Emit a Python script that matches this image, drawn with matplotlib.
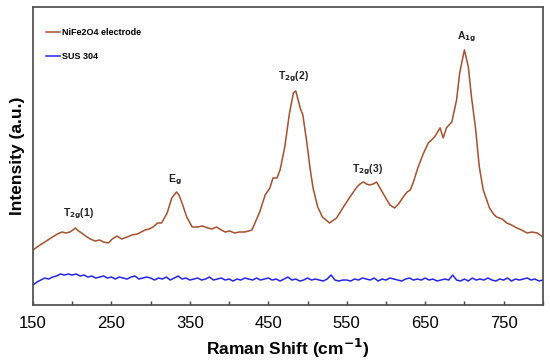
import numpy as np
import matplotlib

matplotlib.use("Agg")
import matplotlib.pyplot as plt
from matplotlib.ticker import FixedLocator

plt.rcParams["font.family"] = ["Liberation Sans", "DejaVu Sans"]

# NiFe2O4 electrode spectrum (wavenumber, intensity a.u.)
nife_shift = [150, 157, 163, 169, 175, 181, 187, 192, 197, 201, 204, 208, 212, 217,
              223, 229, 235, 240, 246, 251, 257, 263, 270, 276, 283, 288, 293, 298,
              303, 306, 309, 314, 321, 327, 333, 336, 340, 346, 353, 360, 366, 373,
              378, 384, 390, 395, 401, 407, 413, 420, 425, 429, 433, 439, 446,
              452, 456, 461, 465, 471, 477, 482, 485, 488, 491, 494, 499, 503, 507,
              513, 519, 528, 537, 545, 554, 563, 567, 571, 575, 579, 584, 588, 596,
              605, 611, 616, 622, 627, 631, 635, 641, 648, 654, 662, 669,
              673, 677, 684, 690, 694, 700, 705, 709, 714, 719, 724, 732, 737,
              741, 748, 754, 760, 767, 773, 780, 786, 793, 800]
nife_int = [55, 59, 62, 65, 68, 71, 73, 72, 73, 75, 77, 74, 72, 69,
            66, 64, 65, 63, 62, 66, 69, 66, 68, 70, 71, 73, 75, 76,
            78, 80, 82, 82, 92, 107, 113, 110, 102, 88, 78, 78, 79, 77,
            76, 78, 75, 73, 74, 72, 73, 73, 74, 75, 82, 93, 110,
            117, 127, 127, 135, 158, 192, 212, 214, 205, 196, 190, 163, 138, 117,
            98, 88, 82, 87, 97, 108, 118, 121, 123, 121, 120, 121, 123, 112,
            100, 97, 101, 108, 113, 115, 123, 138, 152, 162, 168, 177,
            167, 177, 183, 205, 232, 255, 238, 208, 178, 138, 115, 97, 91,
            88, 86, 82, 80, 77, 75, 72, 73, 72, 68]

# SUS 304 spectrum, 150-800 cm-1 in 5 cm-1 steps
sus_int = [20, 23, 25, 27, 26, 28, 29, 31, 30, 31, 30, 31, 29, 30, 28, 29, 27, 28, 29, 27,
           28, 26, 28, 27, 26, 28, 29, 26, 27, 28, 27, 25, 27, 26, 28, 25, 27, 29, 26, 27,
           25, 26, 27, 25, 26, 28, 25, 26, 27, 25, 26, 24, 26, 25, 27, 26, 25, 27, 25, 26,
           27, 25, 26, 24, 26, 28, 25, 26, 24, 25, 27, 25, 26, 25, 24, 26, 30, 25, 24, 25,
           25, 24, 26, 25, 27, 26, 25, 27, 24, 26, 25, 27, 26, 25, 24, 26, 27, 25, 26, 25,
           27, 25, 26, 24, 25, 26, 25, 30, 25, 24, 26, 24, 27, 25, 26, 25, 27, 25, 24, 26,
           25, 27, 24, 26, 25, 26, 27, 25, 26, 24, 25]
sus_shift = np.linspace(150, 800, len(sus_int))

# peak labels: (text, shift, intensity)
peak_labels = [
    (r"T$_{\mathbf{2g}}$(1)", 208, 91),
    (r"E$_{\mathbf{g}}$", 331, 125),
    (r"T$_{\mathbf{2g}}$(2)", 482, 228),
    (r"T$_{\mathbf{2g}}$(3)", 577, 135),
    (r"A$_{\mathbf{1g}}$", 703, 268),
]

fig = plt.figure(figsize=(5.5, 3.61), dpi=100)
ax = fig.add_axes([0.06, 0.155, 0.927, 0.826])

ax.plot(nife_shift, nife_int, color="#a5502f", lw=1.1, label="NiFe2O4 electrode")
ax.plot(sus_shift, sus_int, color="#2424e6", lw=1.1, label="SUS 304")

for text, x, y in peak_labels:
    ax.text(x, y, text, ha="center", va="center", fontsize=7.5, fontweight="bold",
            color="#222222")

ax.set_xlim(150, 800)
ax.set_ylim(0, 298)
ax.xaxis.set_major_locator(FixedLocator([150, 250, 350, 450, 550, 650, 750]))
ax.xaxis.set_minor_locator(FixedLocator([200, 300, 400, 500, 600, 700, 800]))
ax.tick_params(axis="x", which="both", direction="in", length=3, width=1,
               color="#444444", labelsize=12, pad=8)
ax.set_yticks([])
for spine in ax.spines.values():
    spine.set_color("#555555")
    spine.set_linewidth(1.3)

ax.set_xlabel("Raman Shift (cm$^{\\mathbf{-1}}$)", fontsize=12.5, fontweight="bold", labelpad=4)
ax.set_ylabel("Intensity (a.u.)", fontsize=12.5, fontweight="bold", labelpad=6)

leg = ax.legend(loc="upper left", bbox_to_anchor=(0.01, 0.955), frameon=False,
                prop={"size": 6.5, "weight": "bold"}, handlelength=1.5, handletextpad=0.3,
                labelspacing=1.6)

fig.savefig("out.png", dpi=100)
